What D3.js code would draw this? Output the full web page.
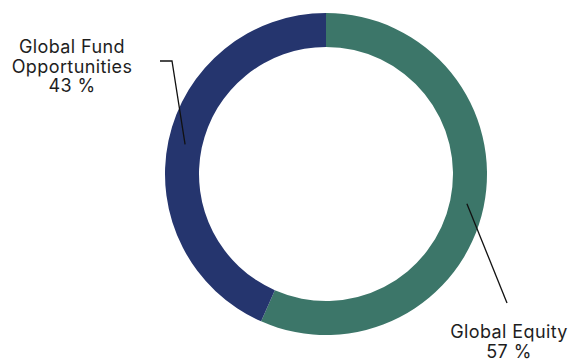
<!DOCTYPE html>
<html>
<head>
<meta charset="utf-8">
<script src="https://cdn.jsdelivr.net/npm/d3@7"></script>
<style>
  body { margin: 0; background: #fff; }
  svg text { font-family: Inter, "Noto Sans", sans-serif; fill: #1e1e1e; }
</style>
</head>
<body>
<svg id="donut" width="568" height="360"></svg>
<script>
// data
const categories = ["Global Equity", "Global Fund Opportunities"];
const shares = [56.6, 43.4];
const colors = ["#3c7669", "#25356e"];

const width = 568, height = 360;
const cx = 326, cy = 174;
const outerR = 161, innerR = 127;

// label layout (offsets from centre): elbow point and text anchor
const labelPos = [
  { elbow: null, lineEnd: [181, 129], text: [183, 164], lines: ["Global Equity"] },
  { elbow: [-154, -113], lineEnd: [-166, -113], text: [-254, -121], lines: ["Global Fund", "Opportunities"] }
];

const svg = d3.select("#donut");
const g = svg.append("g").attr("transform", "translate(" + cx + "," + cy + ")");

const pie = d3.pie().sort(null).value(d => d.value);
const arcs = pie(categories.map((c, i) => ({ name: c, value: shares[i], color: colors[i] })));

const arc = d3.arc().innerRadius(innerR).outerRadius(outerR);
const midArc = d3.arc().innerRadius((innerR + outerR) / 2).outerRadius((innerR + outerR) / 2);

g.selectAll("path.slice")
  .data(arcs)
  .enter().append("path")
  .attr("class", "slice")
  .attr("fill", d => d.data.color)
  .attr("d", arc);

// leader lines
arcs.forEach(function(d, i) {
  const p = labelPos[i];
  const pts = [midArc.centroid(d)];
  if (p.elbow) pts.push(p.elbow);
  pts.push(p.lineEnd);
  g.append("path")
    .attr("fill", "none")
    .attr("stroke", "#111")
    .attr("stroke-width", 1.3)
    .attr("d", d3.line()(pts));

  const t = g.append("text")
    .attr("x", p.text[0])
    .attr("y", p.text[1])
    .attr("text-anchor", "middle")
    .attr("font-size", "18px")
    .attr("letter-spacing", "0.4px");
  p.lines.concat([d3.format(".0f")(d.data.value) + " %"]).forEach(function(s, k) {
    t.append("tspan").attr("x", p.text[0]).attr("dy", k == 0 ? 0 : 19.5).text(s);
  });
});
</script>
</body>
</html>
